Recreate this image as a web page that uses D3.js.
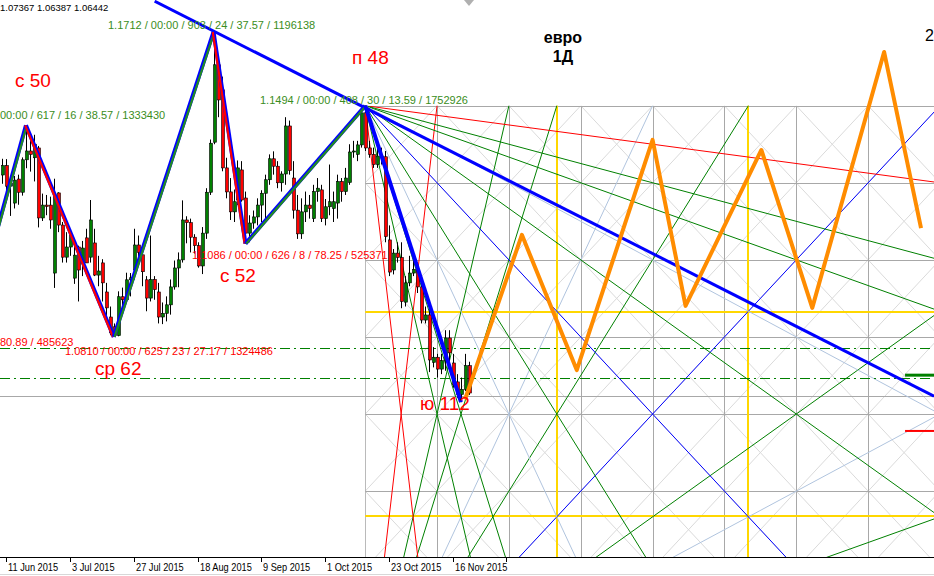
<!DOCTYPE html>
<html><head><meta charset="utf-8">
<script src="https://cdn.jsdelivr.net/npm/d3@7/dist/d3.min.js"></script>
<style>html,body{margin:0;padding:0;background:#fff;overflow:hidden}text{font-family:"Liberation Sans",Arial,sans-serif}</style>
</head><body><svg id="c" width="934" height="576"></svg>
<script>
// ---- data: EURUSD daily bars ----
const dates = ["2015-06-10","2015-06-11","2015-06-12","2015-06-15","2015-06-16","2015-06-17","2015-06-18","2015-06-19","2015-06-22","2015-06-23","2015-06-24","2015-06-25","2015-06-26","2015-06-29","2015-06-30",
"2015-07-01","2015-07-02","2015-07-03","2015-07-06","2015-07-07","2015-07-08","2015-07-09","2015-07-10","2015-07-13","2015-07-14","2015-07-15","2015-07-16","2015-07-17","2015-07-20","2015-07-21","2015-07-22","2015-07-23","2015-07-24","2015-07-27","2015-07-28","2015-07-29","2015-07-30","2015-07-31",
"2015-08-03","2015-08-04","2015-08-05","2015-08-06","2015-08-07","2015-08-10","2015-08-11","2015-08-12","2015-08-13","2015-08-14","2015-08-17","2015-08-18","2015-08-19","2015-08-20","2015-08-21","2015-08-24","2015-08-25","2015-08-26","2015-08-27","2015-08-28","2015-08-31",
"2015-09-01","2015-09-02","2015-09-03","2015-09-04","2015-09-07","2015-09-08","2015-09-09","2015-09-10","2015-09-11","2015-09-14","2015-09-15","2015-09-16","2015-09-17","2015-09-18","2015-09-21","2015-09-22","2015-09-23","2015-09-24","2015-09-25","2015-09-28","2015-09-29","2015-09-30",
"2015-10-01","2015-10-02","2015-10-05","2015-10-06","2015-10-07","2015-10-08","2015-10-09","2015-10-12","2015-10-13","2015-10-14","2015-10-15","2015-10-16","2015-10-19","2015-10-20","2015-10-21","2015-10-22","2015-10-23","2015-10-26","2015-10-27","2015-10-28","2015-10-29","2015-10-30",
"2015-11-02","2015-11-03","2015-11-04","2015-11-05","2015-11-06","2015-11-09","2015-11-10","2015-11-11","2015-11-12","2015-11-13","2015-11-16","2015-11-17","2015-11-18","2015-11-19","2015-11-20"];
const open  = [1.1289,1.1317,1.1256,1.1206,1.1277,1.1238,1.1334,1.1360,1.1340,1.1369,1.1162,1.1200,1.1200,1.0999,1.1236,
1.1141,1.1046,1.1076,1.0984,1.1076,1.1029,1.1103,1.1046,1.1088,1.0993,1.1029,1.0943,1.0869,1.0840,1.0814,1.0929,1.0920,1.0979,1.1008,1.1082,1.1053,1.0979,1.0925,
1.0980,1.0943,1.0869,1.0880,1.0905,1.0958,1.1014,1.1038,1.1156,1.1148,1.1105,1.1080,1.1020,1.1117,1.1238,1.1386,1.1615,1.1541,1.1310,1.1239,1.1180,
1.1215,1.1304,1.1221,1.1117,1.1147,1.1165,1.1200,1.1235,1.1275,1.1337,1.1315,1.1266,1.1292,1.1434,1.1280,1.1185,1.1115,1.1180,1.1200,1.1160,1.1240,1.1245,
1.1160,1.1195,1.1190,1.1206,1.1270,1.1240,1.1267,1.1357,1.1350,1.1378,1.1473,1.1369,1.1350,1.1320,1.1345,1.1343,1.1097,1.1008,1.1058,1.1045,1.0913,1.0970,
1.0999,1.1008,1.0958,1.0860,1.0875,1.0735,1.0750,1.0715,1.0740,1.0807,1.0733,1.0677,1.0640,1.0655,1.0725];
const high  = [1.1337,1.1336,1.1279,1.1286,1.1290,1.1341,1.1436,1.1391,1.1408,1.1375,1.1234,1.1230,1.1225,1.1278,1.1238,
1.1150,1.1120,1.1128,1.1090,1.1080,1.1094,1.1130,1.1215,1.1130,1.1050,1.1040,1.0970,1.0900,1.0850,1.0945,1.0956,1.1000,1.0999,1.1130,1.1110,1.1070,1.0990,1.1110,
1.0990,1.0970,1.0912,1.0930,1.0980,1.1036,1.1060,1.1214,1.1167,1.1160,1.1114,1.1090,1.1135,1.1250,1.1394,1.1712,1.1620,1.1580,1.1340,1.1280,1.1246,
1.1332,1.1330,1.1240,1.1170,1.1184,1.1220,1.1244,1.1290,1.1350,1.1359,1.1330,1.1300,1.1460,1.1450,1.1330,1.1230,1.1220,1.1240,1.1230,1.1260,1.1280,1.1260,
1.1218,1.1320,1.1240,1.1290,1.1280,1.1310,1.1380,1.1390,1.1390,1.1480,1.1494,1.1390,1.1370,1.1380,1.1370,1.1360,1.1140,1.1070,1.1090,1.1090,1.0990,1.1050,
1.1040,1.1030,1.0970,1.0900,1.0890,1.0780,1.0760,1.0760,1.0830,1.0830,1.0760,1.0700,1.0690,1.0760,1.07367];
const low   = [1.1263,1.1208,1.1168,1.1190,1.1201,1.1228,1.1309,1.1299,1.1270,1.1134,1.1153,1.1170,1.1130,1.0955,1.1120,
1.1030,1.1030,1.1050,1.0967,1.0915,1.0990,1.1030,1.1030,1.0990,1.0960,1.0915,1.0870,1.0815,1.0810,1.0812,1.0890,1.0910,1.0930,1.0980,1.1020,1.0960,1.0886,1.0915,
1.0920,1.0850,1.0848,1.0856,1.0876,1.0950,1.0957,1.1030,1.1087,1.1060,1.1057,1.1015,1.0996,1.1100,1.1230,1.1380,1.1460,1.1300,1.1220,1.1156,1.1150,
1.1200,1.1210,1.1086,1.1090,1.1130,1.1140,1.1150,1.1150,1.1260,1.1290,1.1250,1.1240,1.1260,1.1290,1.1160,1.1100,1.1100,1.1150,1.1160,1.1150,1.1210,1.1150,
1.1140,1.1170,1.1150,1.1160,1.1210,1.1230,1.1260,1.1340,1.1330,1.1370,1.1360,1.1340,1.1310,1.1310,1.1320,1.1090,1.0990,1.0995,1.1030,1.0895,1.0900,1.0960,
1.0990,1.0940,1.0850,1.0850,1.0706,1.0720,1.0690,1.0700,1.0710,1.0740,1.0660,1.0630,1.0617,1.0650,1.06387];
const close = [1.1317,1.1256,1.1265,1.1274,1.1238,1.1334,1.1360,1.1350,1.1380,1.1162,1.1200,1.1196,1.1156,1.1230,1.1141,
1.1046,1.1076,1.1110,1.1052,1.1008,1.1073,1.1029,1.1156,1.0993,1.1005,1.0970,1.0896,1.0822,1.0814,1.0929,1.0920,1.0979,1.0985,1.1082,1.1060,1.1003,1.0925,1.0980,
1.0950,1.0869,1.0880,1.0905,1.0958,1.1014,1.1038,1.1156,1.1148,1.1105,1.1080,1.1020,1.1117,1.1238,1.1383,1.1615,1.1511,1.1310,1.1239,1.1180,1.1210,
1.1310,1.1215,1.1117,1.1147,1.1165,1.1200,1.1235,1.1275,1.1337,1.1315,1.1266,1.1292,1.1434,1.1302,1.1185,1.1115,1.1180,1.1200,1.1190,1.1240,1.1250,1.1160,
1.1195,1.1210,1.1210,1.1270,1.1240,1.1280,1.1357,1.1360,1.1378,1.1473,1.1369,1.1350,1.1320,1.1345,1.1343,1.1107,1.1002,1.1058,1.1045,1.0915,1.0970,1.0999,
1.1010,1.0958,1.0860,1.0875,1.0742,1.0750,1.0715,1.0740,1.0807,1.0763,1.0668,1.0640,1.0655,1.0725,1.06442];

const tickDates  = ["2015-06-11","2015-07-03","2015-07-27","2015-08-18","2015-09-09","2015-10-01","2015-10-23","2015-11-16"];
const tickLabels = ["11 Jun 2015","3 Jul 2015","27 Jul 2015","18 Aug 2015","9 Sep 2015","1 Oct 2015","23 Oct 2015","16 Nov 2015"];

// zigzag swing points [bar, price]
const zigBars   = [-3, 6, 28, 53, 61, 91];
const zigPrices = [1.1050, 1.1436, 1.0810, 1.1712, 1.1086, 1.1494];
const lastLegBars = [91, 115], lastLegPrices = [1.1494, 1.0617];
// trend line through the highs
const trendBars = [38.25, 233.5], trendPrices = [1.1803, 1.0635];
// Gann grid / fans
const gannOriginBar = 91, gannOriginPrice = 1.1494, gannStepBars = 18, gannStepPrice = 0.0228;
const fanRatios = [1/8, 1/4, 1/3, 1/2, 2/3, 1, 3/2, 2, 3, 4, 8];
const fanColors = ["#ff0000","#008000","#008000","#b0c4de","#008000","#0000ff","#008000","#b0c4de","#008000","#008000","#ff0000"];
// horizontal levels
const levelGray = [1.0635];
const levelDashDot = [1.0777, 1.0689];
const levelYellow = [1.0884, 1.0280];
const yellowBars = [139, 187];
const markGreen = 1.0697, markRed = 1.0532;
// forecast (orange)
const fcBars   = [116, 130.25, 144, 163, 171.25, 190.25, 203, 221, 230.25];
const fcPrices = [1.0625, 1.1112, 1.0712, 1.1393, 1.0902, 1.1363, 1.0896, 1.1653, 1.1132];

// ---- drawing ----
const W = 934, H = 576, PB = 557;
const svg = d3.select("#c");
const x = d3.scaleLinear().domain([-0.5, 233.5]).range([0, W]);
const y = d3.scaleLinear().domain([1.18066, 1.01592]).range([0, PB]);
const bar = d => dates.indexOf(d);

svg.append("rect").attr("width", W).attr("height", H).attr("fill", "#fff");
const defs = svg.append("defs");
defs.append("clipPath").attr("id", "plot").append("rect").attr("width", W).attr("height", PB);
const gx0 = x(gannOriginBar), gy0 = y(gannOriginPrice);
defs.append("clipPath").attr("id", "gclip").append("rect").attr("x", gx0).attr("y", gy0).attr("width", W - gx0).attr("height", PB - gy0);

const g = svg.append("g").attr("clip-path", "url(#plot)");
const line = (sel, x1, y1, x2, y2, col, w) => sel.append("line").attr("x1", x1).attr("y1", y1).attr("x2", x2).attr("y2", y2).attr("stroke", col).attr("stroke-width", w);

// Gann grid
const gridG = g.append("g").attr("clip-path", "url(#gclip)");
const cols = d3.range(gannOriginBar, 240, gannStepBars);
const rows = d3.range(0, 8).map(j => gannOriginPrice - j * gannStepPrice);
for (let i = 0; i < cols.length - 1; i++) for (let j = 0; j < rows.length - 1; j++) {
  line(gridG, x(cols[i]), y(rows[j]), x(cols[i+1]), y(rows[j+1]), "#dadada", 1);
  line(gridG, x(cols[i]), y(rows[j+1]), x(cols[i+1]), y(rows[j]), "#dadada", 1);
}
rows.forEach(p => line(gridG, gx0, Math.round(y(p)) + 0.5, W, Math.round(y(p)) + 0.5, "#a8a8a8", 1));
cols.forEach(b => line(gridG, Math.round(x(b)) + 0.5, gy0, Math.round(x(b)) + 0.5, PB, "#a8a8a8", 1));
levelGray.forEach(p => line(g, 0, Math.round(y(p)) + 0.5, W, Math.round(y(p)) + 0.5, "#a8a8a8", 1));

// yellow box lines
levelYellow.forEach(p => line(g, gx0, Math.round(y(p)), W, Math.round(y(p)), "#ffd700", 2));
yellowBars.forEach(b => line(g, Math.round(x(b)), gy0, Math.round(x(b)), PB, "#ffd700", 2));

// Gann fans: down from the high, up from the mirror point below (both kept inside the grid)
const fanG = g.append("g").attr("clip-path", "url(#gclip)");
const baseY = gannOriginPrice - 8 * gannStepPrice;
const far = 300;
fanRatios.forEach((r, k) => {
  const dp = r * gannStepPrice / gannStepBars * far;
  line(fanG, x(gannOriginBar), y(baseY), x(gannOriginBar + far), y(baseY + dp), fanColors[k], 1);
});
fanRatios.forEach((r, k) => {
  const dp = r * gannStepPrice / gannStepBars * far;
  line(fanG, x(gannOriginBar), y(gannOriginPrice), x(gannOriginBar + far), y(gannOriginPrice - dp), fanColors[k], 1);
});

// dash-dot levels
levelDashDot.forEach(p => line(g, 0, Math.round(y(p)) + 0.5, W, Math.round(y(p)) + 0.5, "#008000", 1).attr("stroke-dasharray", "10,4,2,4"));

// candles
const cg = g.append("g");
dates.forEach((d, i) => {
  const cx = Math.round(x(i));
  line(cg, cx + 0.5, y(high[i]), cx + 0.5, y(low[i]), "#000", 1);
  const up = close[i] >= open[i];
  const top = y(Math.max(open[i], close[i])), bot = y(Math.min(open[i], close[i]));
  cg.append("rect").attr("x", cx - 0.5).attr("y", top).attr("width", 3).attr("height", Math.max(1, bot - top))
    .attr("fill", up ? "#008000" : "#ff0000").attr("stroke", "#000").attr("stroke-width", 0.6);
});

// trend line
line(g, x(trendBars[0]), y(trendPrices[0]), x(trendBars[1]), y(trendPrices[1]), "#0000ff", 3);

// zigzag
for (let i = 0; i < zigBars.length - 1; i++) {
  const x1 = x(zigBars[i]), y1 = y(zigPrices[i]), x2 = x(zigBars[i+1]), y2 = y(zigPrices[i+1]);
  const upLeg = zigPrices[i+1] > zigPrices[i];
  line(g, x1, y1, x2, y2, "#0000ff", 4);
  const s = upLeg ? 0.8 : -0.8;
  line(g, x1 + s, y1, x2 + s, y2, upLeg ? "#228b22" : "#ff0000", 2.2);
}
line(g, x(lastLegBars[0]), y(lastLegPrices[0]), x(lastLegBars[1]), y(lastLegPrices[1]), "#0000ff", 4);

// forecast
g.append("path").datum(fcBars.map((b, i) => [b, fcPrices[i]]))
  .attr("d", d3.line().x(d => x(d[0])).y(d => y(d[1])))
  .attr("fill", "none").attr("stroke", "#ff8c00").attr("stroke-width", 4).attr("stroke-linejoin", "round");

// right-edge price marks
line(g, x(226.25), y(markGreen), W, y(markGreen), "#008000", 3);
line(g, x(226.25), y(markRed), W, y(markRed), "#ff0000", 2);

// shift marker
const lx = x(dates.length - 1);
svg.append("path").attr("d", `M${lx-5},0L${lx+5},0L${lx},6Z`).attr("fill", "#b0b0b0");

// time axis
line(svg, 0, PB + 0.5, W, PB + 0.5, "#000", 1);
line(svg, 0, H - 1.5, W, H - 1.5, "#d8d8d8", 1);
tickDates.forEach((d, k) => {
  const tx = Math.round(x(bar(d))) + 0.5;
  line(svg, tx, PB, tx, PB + 5, "#000", 1);
  svg.append("text").attr("transform", `translate(${tx + 1.5},571) scale(0.88,1)`).attr("font-size", 10.5).attr("fill", "#000").text(tickLabels[k]);
});
line(svg, Math.round(x(126.25)) + 0.5, PB, Math.round(x(126.25)) + 0.5, PB + 5, "#000", 1);

// annotations
const T = (tx, ty, s, col, size, opts = {}) => {
  const t = svg.append("text").attr("x", tx).attr("y", ty).attr("fill", col).attr("font-size", size).text(s);
  if (opts.bold) t.attr("font-weight", "bold");
  if (opts.anchor) t.attr("text-anchor", opts.anchor);
  return t;
};
const GT = "#3a8d22";
T(0, 11, "1.07367 1.06387 1.06442", "#000", 9.5);
T(108, 29, "1.1712 / 00:00 / 903 / 24 / 37.57 / 1196138", GT, 11);
T(0, 119, "00:00 / 617 / 16 / 38.57 / 1333430", GT, 11);
T(260, 104, "1.1494 / 00:00 / 408 / 30 / 13.59 / 1752926", GT, 11);
T(192, 259, "1.1086 / 00:00 / 626 / 8 / 78.25 / 525371", "#ff0000", 11);
T(0, 346, "80.89 / 485623", "#ff0000", 11);
T(65, 355, "1.0810 / 00:00 / 625 / 23 / 27.17 / 1324486", "#ff0000", 11);
T(15, 87, "с 50", "#ff0000", 19);
T(352, 64, "п 48", "#ff0000", 19);
T(220, 282, "с 52", "#ff0000", 19);
T(95, 375, "ср 62", "#ff0000", 19);
T(420, 410, "ю 112", "#ff0000", 19);
T(563, 43, "евро", "#000", 16, {bold: true, anchor: "middle"});
T(563, 62, "1Д", "#000", 16, {bold: true, anchor: "middle"});
T(925, 41, "2", "#000", 16);
</script></body></html>
